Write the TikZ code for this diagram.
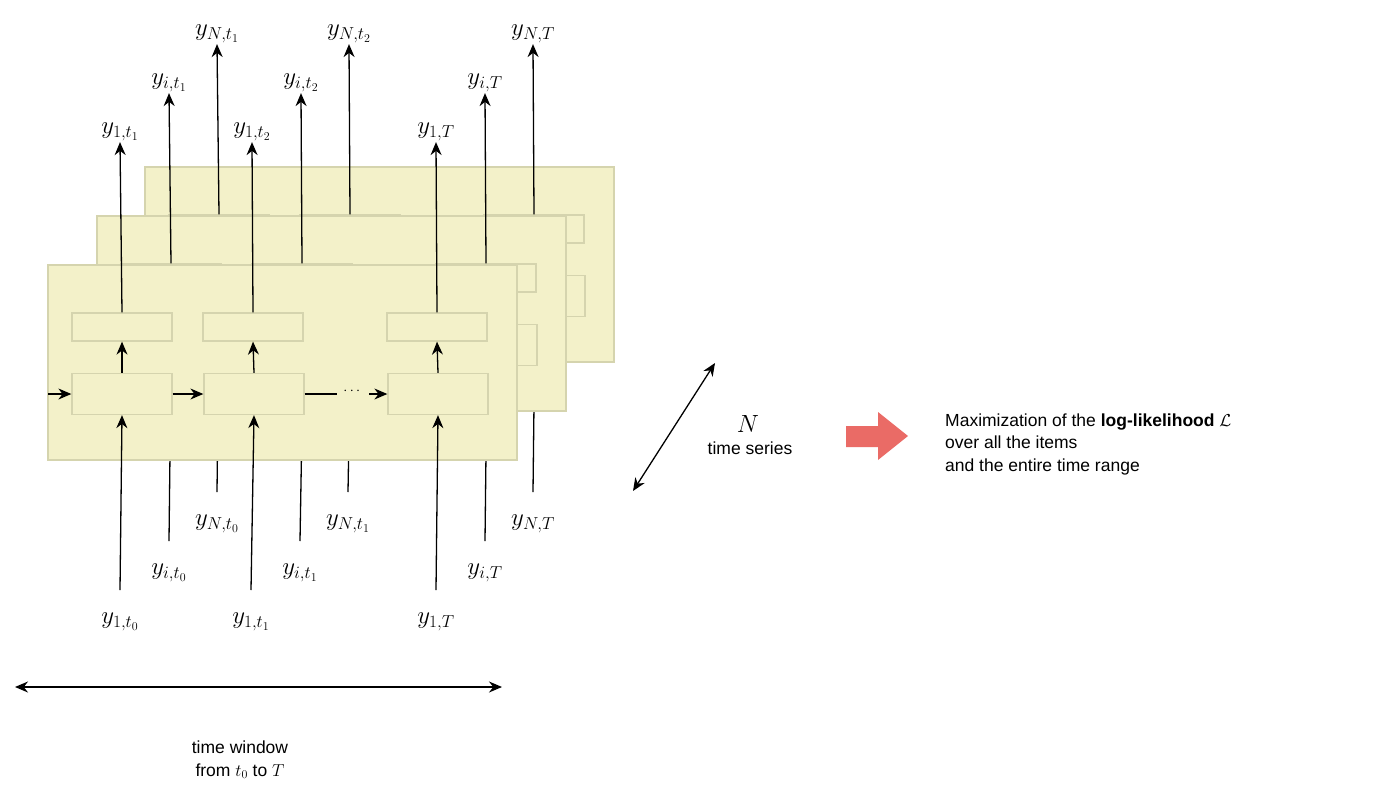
\documentclass[tikz,border=0pt]{standalone}
\usepackage{fontspec}
\setmainfont{Liberation Sans}
\usepackage{amsmath}
\usetikzlibrary{arrows.meta}
\definecolor{pfill}{HTML}{F3F1C9}
\definecolor{pline}{HTML}{D5D4AE}
\definecolor{redarr}{HTML}{EA6B66}
\begin{document}
\begin{tikzpicture}[x=1pt,y=-1pt,
  panel/.style={draw=pline,fill=pfill,line width=1.3pt,inner sep=0},
  cell/.style={draw=pline,fill=pfill,line width=1.3pt,minimum width=100pt,inner sep=0},
  arr/.style={-{Stealth[length=13pt,width=11pt]},line width=1.3pt},
  darr/.style={{Stealth[length=13pt,width=11pt]}-{Stealth[length=13pt,width=11pt]},line width=1.3pt},
  plain/.style={line width=1.3pt},
  lab/.style={font=\fontsize{25}{25}\selectfont,inner sep=1pt},
  txt/.style={font=\fontsize{17.5}{22.5}\selectfont,inner sep=0,align=left}]
\useasboundingbox (0,0) rectangle (1400,803);
\foreach \dx/\dy/\idx in {97/-98/N, 49/-49/i, 0/0/1}{
  \begin{scope}[shift={(\dx,\dy)}]
  \node[panel,minimum width=469pt,minimum height=195pt] (P\idx) at (282.5,362.5) {};
  \node[cell,minimum height=28pt] (a1\idx) at (122,327) {};
  \node[cell,minimum height=28pt] (a2\idx) at (253,327) {};
  \node[cell,minimum height=28pt] (a3\idx) at (437,327) {};
  \node[cell,minimum height=41pt] (b1\idx) at (122,394) {};
  \node[cell,minimum height=41pt] (b2\idx) at (254,394) {};
  \node[cell,minimum height=41pt] (b3\idx) at (438,394) {};
  \coordinate (s\idx) at (48,394);
  \node[font=\Large] (dots\idx) at (353,391) {$\cdots$};
  \draw[arr] (s\idx) -- (b1\idx.west);
  \draw[arr] (b1\idx) -- (b2\idx);
  \draw[plain] (b2\idx.east) -- (337,394);
  \draw[arr] (369,394) -- (b3\idx.west);
  \foreach \k in {1,2,3}{ \draw[arr] (b\k\idx.north) -- (a\k\idx.south); }
  \node[lab] (o1\idx) at (120,132) {$y_{\idx,t_1}$};
  \node[lab] (o2\idx) at (252,132) {$y_{\idx,t_2}$};
  \node[lab] (o3\idx) at (436,132) {$y_{\idx,T}$};
  \node[lab] (n1\idx) at (120,622) {$y_{\idx,t_0}$};
  \node[lab] (n2\idx) at (251,622) {$y_{\idx,t_1}$};
  \node[lab] (n3\idx) at (436,622) {$y_{\idx,T}$};
  \foreach \k in {1,2,3}{
    \draw[arr] (a\k\idx.north) -- (o\k\idx.south);
    \draw[arr] ([yshift=32pt]n\k\idx.center) -- (b\k\idx.south);
  }
  \end{scope}
}
% N time series
\coordinate (d1) at (633,491);
\coordinate (d2) at (715,363);
\draw[darr] (d1) -- (d2);
\node[lab] (Nl) at (748,424) {$N$};
\node[txt] (ts) at (750,448) {time series};
% red arrow
\fill[redarr] (846,426) -- (878,426) -- (878,412) -- (908,436) -- (878,460) -- (878,447) -- (846,447) -- cycle;
\node[txt,anchor=west] (res) at (945,444) {Maximization of the \textbf{log-likelihood} $\mathcal{L}$\\over all the items\\and the entire time range};
% time window
\coordinate (w1) at (15,687);
\coordinate (w2) at (502,687);
\draw[darr] (w1) -- (w2);
\node[txt,align=center] (tw) at (240,760) {time window\\from $t_0$ to $T$};
\end{tikzpicture}
\end{document}
